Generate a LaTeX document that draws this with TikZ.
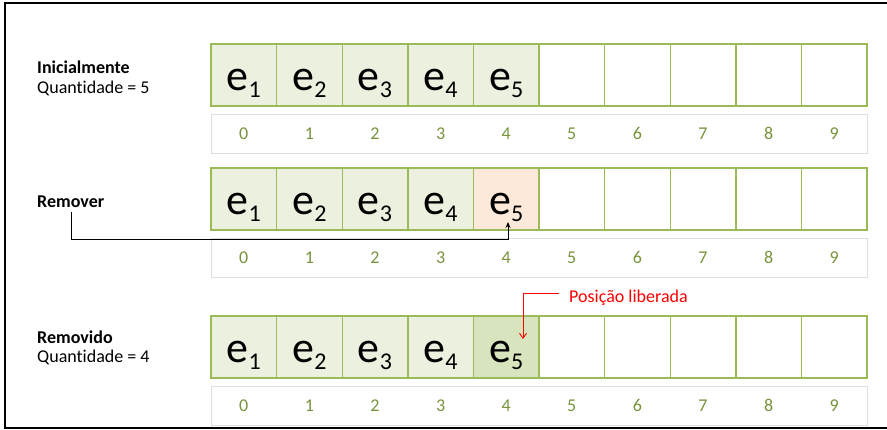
\documentclass[tikz,border=0pt]{standalone}
\usepackage{fontspec}
\setmainfont{Carlito}[Ligatures={NoCommon}]
\usetikzlibrary{arrows.meta}
\definecolor{cellborder}{RGB}{155,187,89}
\definecolor{cellfill}{RGB}{235,241,222}
\definecolor{cellorange}{RGB}{253,233,217}
\definecolor{celldark}{RGB}{215,228,189}
\definecolor{idxcol}{RGB}{119,147,60}
\definecolor{idxborder}{RGB}{222,222,222}
\newcommand{\elem}[1]{{\fontsize{44}{44}\selectfont e\raisebox{-7pt}{\fontsize{24}{24}\selectfont #1}}}
\tikzset{
  cellbox/.style={draw=cellborder, line width=1.4pt},
  idxbox/.style={draw=idxborder, line width=0.9pt},
  idxtext/.style={text=idxcol, font=\fontsize{18}{18}\selectfont, anchor=center},
  elemtext/.style={anchor=base, inner sep=0pt},
  lbl/.style={anchor=west, inner sep=0pt, font=\fontsize{18}{18}\selectfont},
  lblbold/.style={lbl, font=\fontsize{18}{18}\selectfont\bfseries},
  frameline/.style={line width=2pt, black},
}
\begin{document}
\begin{tikzpicture}[x=1pt,y=-1pt]
\useasboundingbox (0,0) rectangle (887,430);
% frame
\draw[frameline] (887,3) -- (4.5,3) -- (4.5,428) -- (887,428);
% rows
\foreach \r/\top/\itop in {1/44/114, 2/168/238, 3/316/386}{
  \foreach \i in {0,...,4}{
    \fill[cellfill] ({211+\i*65.6},\top) rectangle ({211+(\i+1)*65.6},\top+62);
  }
  \draw[idxbox] (211,\itop) rectangle (867,\itop+39);
  \foreach \i in {0,...,9}{
    \node[idxtext] (i\r-\i) at ({211+(\i+0.5)*65.6},\itop+19.5) {\i};
  }
}
\fill[cellorange] ({211+4*65.6},168) rectangle ({211+5*65.6},230);
\fill[celldark] ({211+4*65.6},316) rectangle ({211+5*65.6},378);
\foreach \r/\top in {1/44, 2/168, 3/316}{
  \foreach \i in {0,...,9}{
    \draw[cellbox] ({211+\i*65.6},\top) rectangle ({211+(\i+1)*65.6},\top+62);
    \coordinate (c\r-\i) at ({211+(\i+0.5)*65.6},\top+31);
  }
  \foreach \i/\n in {0/1,1/2,2/3,3/4,4/5}{
    \node[elemtext] (e\r-\i) at ({211+(\i+0.5)*65.6},\top+47) {\elem{\n}};
  }
}
% labels
\node[lblbold] (l1) at (37,67) {Inicialmente};
\node[lbl] (l1b) at (37,88) {Quantidade = 5};
\node[lblbold] (l2) at (37,202) {Remover};
\node[lblbold] (l3) at (37,337) {Removido};
\node[lbl] (l3b) at (37,357) {Quantidade = 4};
% remover arrow
\coordinate (rstart) at (71,212);
\coordinate (rend) at (508,222);
\draw[black, line width=0.9pt, -{Stealth[length=6pt,width=5pt]}] (rstart) -- (71,239) -- (508,239) -- (rend);
% posicao liberada
\node[anchor=west, inner sep=0pt, text=red, font=\fontsize{18}{18}\selectfont] (pl) at (569,298) {Posição liberada};
\coordinate (pend) at (523,339);
\draw[red, line width=0.9pt, -{Straight Barb[length=5pt,width=7pt]}] (559,293) -- (523,293) -- (pend);
\end{tikzpicture}
\end{document}
